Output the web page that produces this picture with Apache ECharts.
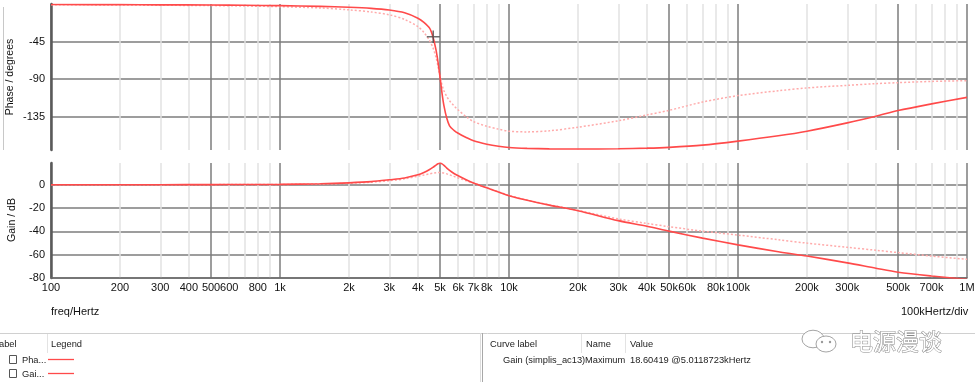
<!DOCTYPE html>
<html>
<head>
<meta charset="utf-8">
<script src="https://cdn.jsdelivr.net/npm/echarts@6/dist/echarts.min.js"></script>
<style>
html,body{margin:0;padding:0;background:#fff;}
#c{width:975px;height:382px;}
</style>
</head>
<body>
<div id="c"></div>
<script>
// ---- data ----
const freqs = [100,200,300,500,700,1000,1500,2000,2500,3000,3500,4000,4250,4500,4650,4800,4900,5000,5100,5200,5350,5500,5750,6000,6500,7000,8000,9000,10000,12000,15000,20000,30000,40000,50000,70000,100000,150000,200000,300000,400000,500000,700000,1000000];
const phaseSolid = [-0.6,-0.8,-1.0,-1.2,-1.5,-2.0,-2.8,-3.9,-5.2,-7.2,-10.5,-17,-22,-29,-39,-55,-70,-88,-107,-122,-137,-146,-151.5,-155,-160,-164,-168,-170.5,-172,-173,-173.6,-173.8,-173.5,-172.8,-171.8,-169.2,-164.4,-158,-152.5,-142.5,-134.5,-127.7,-119.7,-111.9];
const phaseDotted = [-0.8,-1.2,-1.5,-1.9,-2.4,-3.2,-4.8,-7.0,-9.5,-13,-18.5,-27,-34,-44,-52,-64,-75,-87,-97,-104,-111,-116,-122,-127,-135,-141,-146.5,-150,-152.5,-153.3,-152,-147.7,-140,-133,-127.5,-117.5,-109.8,-104,-100.6,-97.5,-95.5,-94.3,-92.8,-91.9];
const gainSolid = [0,0,0,0.1,0.2,0.3,0.8,1.6,2.6,4.2,5.8,8.5,10.5,13.0,14.8,16.8,17.9,18.6,17.9,16.6,14.2,12.2,9.6,7.6,4.2,1.5,-2.7,-6.3,-9.4,-13.4,-17.5,-22.3,-30.8,-35.6,-39.8,-45.8,-51.6,-57.5,-61.2,-67.0,-71.6,-75.0,-78.3,-81.2];
const gainDotted = [0,0,0,0.05,0.1,0.2,0.6,1.2,2.1,3.4,5.0,7.3,8.3,9.3,9.8,10.2,10.35,10.4,10.3,10.0,9.3,8.5,7.1,5.8,3.4,1.3,-2.6,-6.1,-9.2,-13.2,-17.3,-22.0,-29.3,-33.2,-36.0,-39.8,-43.2,-47.2,-50.1,-53.7,-56.2,-58.2,-61.2,-64.0];
const cursorPoint = [4670, -39.2];
const xTickLabels = [100,200,300,400,500,600,800,1000,2000,3000,4000,5000,6000,7000,8000,10000,20000,30000,40000,50000,60000,80000,100000,200000,300000,500000,700000,1000000];
const xGridLines = [100,200,300,400,500,600,700,800,900,1000,2000,3000,4000,5000,6000,7000,8000,9000,10000,20000,30000,40000,50000,60000,70000,80000,90000,100000,200000,300000,400000,500000,600000,700000,800000,900000,1000000];
const phaseTicks = [-135,-90,-45];
const gainTicks = [-80,-60,-40,-20,0];

const RED = '#ff4a4a', PINK = '#ffaaaa', DARK = '#7c7c7c', LIGHT = '#e2e2e2';
const FONT = 'Liberation Sans';
const zip = (a) => freqs.map((f, i) => [f, a[i]]);
const fmtF = v => v >= 1e6 ? (v/1e6)+'M' : v >= 1000 ? (v/1000)+'k' : String(v);
const vColors = [DARK, LIGHT, LIGHT, LIGHT, DARK, LIGHT, LIGHT, LIGHT, LIGHT];

function xAxisFor(gi, showLabels) {
  return {
    type: 'log', logBase: 10, gridIndex: gi, min: 100, max: 1000000,
    axisLine: {show: showLabels, onZero: false, lineStyle: {color: '#6a6a6a', width: 1.5}},
    axisTick: {show: false, customValues: xGridLines},
    axisLabel: {show: showLabels, customValues: xTickLabels, formatter: fmtF, color: '#111', fontFamily: FONT, fontSize: 11, margin: 4, hideOverlap: false},
    splitLine: {show: true, lineStyle: {color: vColors, width: 1.5}},
    minorTick: {show: false}, minorSplitLine: {show: false}
  };
}
function yAxisFor(gi, min, max, ticks) {
  return {
    type: 'value', gridIndex: gi, min: min, max: max,
    axisLine: {show: true, onZero: false, lineStyle: {color: '#5a5a5a', width: 2.5}},
    axisTick: {show: false, customValues: ticks},
    axisLabel: {customValues: ticks, color: '#111', fontFamily: FONT, fontSize: 11, margin: 6},
    splitLine: {show: true, lineStyle: {color: DARK, width: 1.5}}
  };
}
function lineSeries(gi, data, solid) {
  return {
    type: 'line', xAxisIndex: gi, yAxisIndex: gi, data: zip(data),
    showSymbol: false, smooth: 0.3, clip: true,
    z: solid ? 4 : 3, silent: true,
    lineStyle: solid ? {color: RED, width: 1.6} : {color: PINK, width: 1.5, type: [2, 2]}
  };
}

const TF = '9.3px ' + FONT;
const txt = (x, y, s, extra) => Object.assign({type: 'text', x: x, y: y, silent: true,
  style: Object.assign({text: s, fill: '#222', font: TF, textVerticalAlign: 'middle'}, extra || {})});
const ln = (x1, y1, x2, y2, c, w) => ({type: 'line', silent: true, shape: {x1, y1, x2, y2}, style: {stroke: c, lineWidth: w || 1}});

const chart = echarts.init(document.getElementById('c'), null, {renderer: 'canvas'});
chart.setOption({
  animation: false,
  backgroundColor: '#fff',
  grid: [
    {left: 51, right: 8, top: 4, height: 146, outerBoundsMode: 'none', containLabel: false},
    {left: 51, right: 8, top: 163, height: 115, outerBoundsMode: 'none', containLabel: false}
  ],
  xAxis: [xAxisFor(0, false), xAxisFor(1, true)],
  yAxis: [yAxisFor(0, -175, 0, phaseTicks), yAxisFor(1, -80, 18.6, gainTicks)],
  series: [
    lineSeries(0, phaseDotted, false),
    lineSeries(0, phaseSolid, true),
    lineSeries(1, gainDotted, false),
    lineSeries(1, gainSolid, true),
    {type: 'scatter', xAxisIndex: 0, yAxisIndex: 0, data: [cursorPoint], z: 6, silent: true,
     symbol: 'path://M0,5.5L13,5.5L13,7L0,7Z M5.7,0L7.2,0L7.2,12.5L5.7,12.5Z', symbolSize: [13, 12.5],
     itemStyle: {color: '#4a4a4a'}}
  ],
  graphic: [
    ln(3.5, 7, 3.5, 150, '#c8c8c8', 1),
    {type: 'text', x: 10, y: 77, rotation: Math.PI/2, silent: true,
     style: {text: 'Phase / degrees', fill: '#111', font: '10.5px ' + FONT, textAlign: 'center', textVerticalAlign: 'middle'}},
    {type: 'text', x: 12, y: 220, rotation: Math.PI/2, silent: true,
     style: {text: 'Gain / dB', fill: '#111', font: '10.5px ' + FONT, textAlign: 'center', textVerticalAlign: 'middle'}},
    txt(51, 312, 'freq/Hertz', {font: '11px ' + FONT, fill: '#111'}),
    txt(901, 312, '100kHertz/div', {font: '11px ' + FONT, fill: '#111'}),
    // bottom panels
    ln(0, 333.5, 975, 333.5, '#d0d0d0', 1),
    ln(47.5, 334, 47.5, 353, '#e3e3e3', 1),
    ln(482.5, 333, 482.5, 382, '#a8a8a8', 1),
    ln(480.5, 333, 480.5, 382, '#dcdcdc', 1),
    ln(581.5, 334, 581.5, 353, '#e3e3e3', 1),
    ln(625.5, 334, 625.5, 353, '#e3e3e3', 1),
    txt(-1, 344, 'abel'),
    txt(51, 344, 'Legend'),
    {type: 'rect', silent: true, shape: {x: 9.5, y: 355.5, width: 7, height: 8}, style: {fill: '#fff', stroke: '#555', lineWidth: 1}},
    {type: 'rect', silent: true, shape: {x: 9.5, y: 369.5, width: 7, height: 8}, style: {fill: '#fff', stroke: '#555', lineWidth: 1}},
    txt(22, 360, 'Pha...'),
    txt(22, 374, 'Gai...'),
    ln(48, 359.5, 74, 359.5, RED, 1.3),
    ln(48, 373.5, 74, 373.5, RED, 1.3),
    txt(490, 344, 'Curve label'),
    txt(586, 344, 'Name'),
    txt(630, 344, 'Value'),
    txt(503, 360, 'Gain (simplis_ac13)'),
    txt(585, 360, 'Maximum'),
    txt(630, 360, '18.60419 @5.0118723kHertz'),
    // watermark
    {type: 'circle', silent: true, x: 813, y: 339, scaleY: 0.8, shape: {cx: 0, cy: 0, r: 11}, style: {fill: 'rgba(255,255,255,0.9)', stroke: '#9a9a9a', lineWidth: 1}},
    {type: 'circle', silent: true, x: 826, y: 344, scaleY: 0.8, shape: {cx: 0, cy: 0, r: 10}, style: {fill: '#fff', stroke: '#9a9a9a', lineWidth: 1}},
    {type: 'circle', silent: true, shape: {cx: 822, cy: 342, r: 1.2}, style: {fill: '#999'}},
    {type: 'circle', silent: true, shape: {cx: 830, cy: 342, r: 1.2}, style: {fill: '#999'}},
    {type: 'text', silent: true, x: 850, y: 341, style: {text: '电源漫谈', font: '23px "Noto Sans CJK SC"', fill: '#fff', stroke: '#8a8a8a', lineWidth: 1, textVerticalAlign: 'middle'}}
  ]
});
</script>
</body>
</html>
